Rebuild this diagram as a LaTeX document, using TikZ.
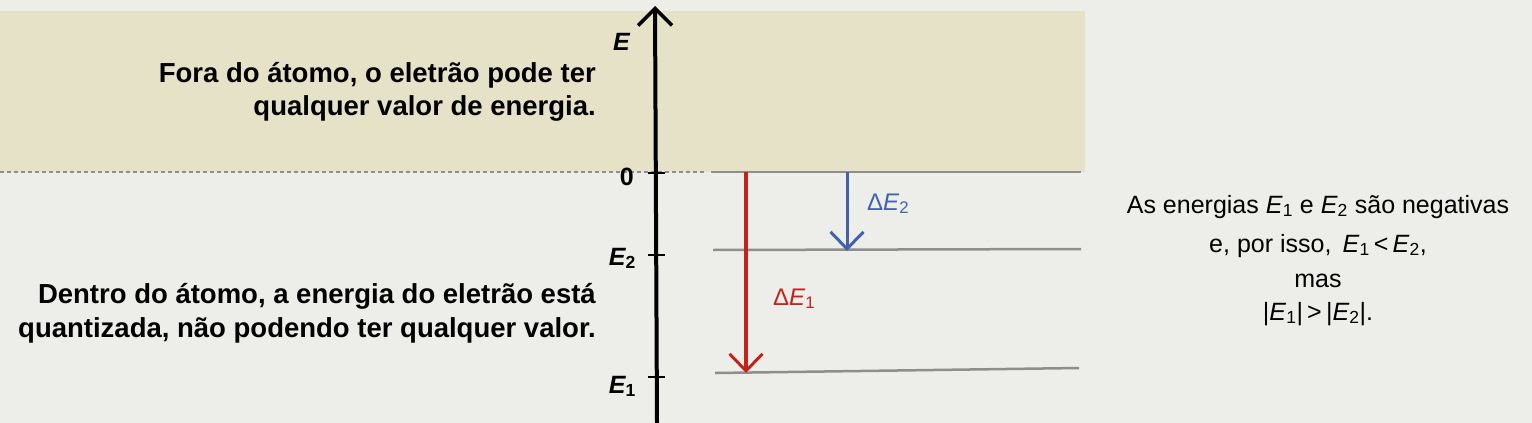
\documentclass[tikz,border=0pt]{standalone}
\usepackage{fontspec}
\setmainfont{Liberation Sans}
\usetikzlibrary{arrows.meta}
\definecolor{paper}{HTML}{EDEEEA}
\definecolor{beige}{HTML}{E5E2C8}
\definecolor{lvl}{HTML}{8C8F8C}
\definecolor{redarr}{HTML}{C2241C}
\definecolor{bluearr}{HTML}{4262AE}
\tikzset{
  txt/.style={font=\fontsize{27.5}{33}\selectfont\bfseries, inner sep=0pt, anchor=base east},
  rtxt/.style={font=\fontsize{25}{34}\selectfont, inner sep=0pt, anchor=base},
  lab/.style={font=\fontsize{25}{28}\selectfont\bfseries\itshape, inner sep=0pt, anchor=base east},
  dlab/.style={font=\fontsize{24}{28}\selectfont, inner sep=0pt, anchor=base west},
  level/.style={draw=lvl, line width=2.5pt},
  tick/.style={draw=black, line width=2pt},
  barb/.style={-{Straight Barb[length=17pt,width=33pt,line width=3pt]}},
}
\newcommand{\Ev}[1]{\textit{E}\textsubscript{\upshape #1}}
\begin{document}
\begin{tikzpicture}[x=1pt,y=-1pt]
\useasboundingbox (0,0) rectangle (1532,423);
\fill[paper] (0,0) rectangle (1532,423);
\fill[beige] (0,11) rectangle (1085,172);
% zero line dashed (left) and level lines
\draw[lvl, line width=2pt, dash pattern=on 4pt off 3pt] (0,172) -- (705,172);
\coordinate (z0) at (711,172);
\coordinate (z1) at (1081,172);
\draw[level] (z0) -- (z1);
\coordinate (a0) at (713,250);
\coordinate (a1) at (1081,249);
\draw[level] (a0) -- (a1);
\coordinate (b0) at (715,373);
\coordinate (b1) at (1079,368);
\draw[level] (b0) -- (b1);
% axis
\coordinate (ax0) at (657,423);
\coordinate (ax1) at (655,6);
\draw[line width=4pt, -{Straight Barb[length=17pt,width=34pt,line width=3.5pt]}] (ax0) -- (ax1);
\coordinate (t0) at (656,173);
\coordinate (t2) at (656,255);
\coordinate (t1) at (656,377);
\draw[tick] ([xshift=-8pt]t0) -- ([xshift=9pt]t0);
\draw[tick] ([xshift=-8pt]t2) -- ([xshift=9pt]t2);
\draw[tick] ([xshift=-8pt]t1) -- ([xshift=9pt]t1);
\node[lab] (lE) at (630,50) {E};
\node[font=\fontsize{25}{28}\selectfont\bfseries, inner sep=0pt, anchor=base east] (l0) at (634,185) {0};
\node[lab] (lE2) at (636,265) {\Ev{2}};
\node[lab] (lE1) at (636,393) {\Ev{1}};
% arrows
\coordinate (r0) at (746,172);
\coordinate (r1) at (746,373);
\draw[redarr, line width=3.5pt, barb] (r0) -- (r1);
\coordinate (s0) at (847,172);
\coordinate (s1) at (847,251);
\draw[bluearr, line width=3pt, barb] (s0) -- (s1);
\node[dlab, redarr] (dE1) at (773,305) {Δ\Ev{1}};
\node[dlab, bluearr] (dE2) at (867,210) {Δ\Ev{2}};
% left texts
\node[txt] (f1) at (596,82) {Fora do átomo, o eletrão pode ter};
\node[txt] (f2) at (596,115) {qualquer valor de energia.};
\node[txt] (d1) at (596,303) {Dentro do átomo, a energia do eletrão está};
\node[txt] (d2) at (596,337) {quantizada, não podendo ter qualquer valor.};
% right text
\node[rtxt] (rt1) at (1318,213) {As energias \Ev{1} e \Ev{2} são negativas};
\node[rtxt] (rt2) at (1318,252) {e, por isso,\, \Ev{1}\,<\,\Ev{2},};
\node[rtxt] (rt3) at (1318,287) {mas};
\node[rtxt] (rt4) at (1318,320) {|\Ev{1}|\,>\,|\Ev{2}|.};
\end{tikzpicture}
\end{document}
